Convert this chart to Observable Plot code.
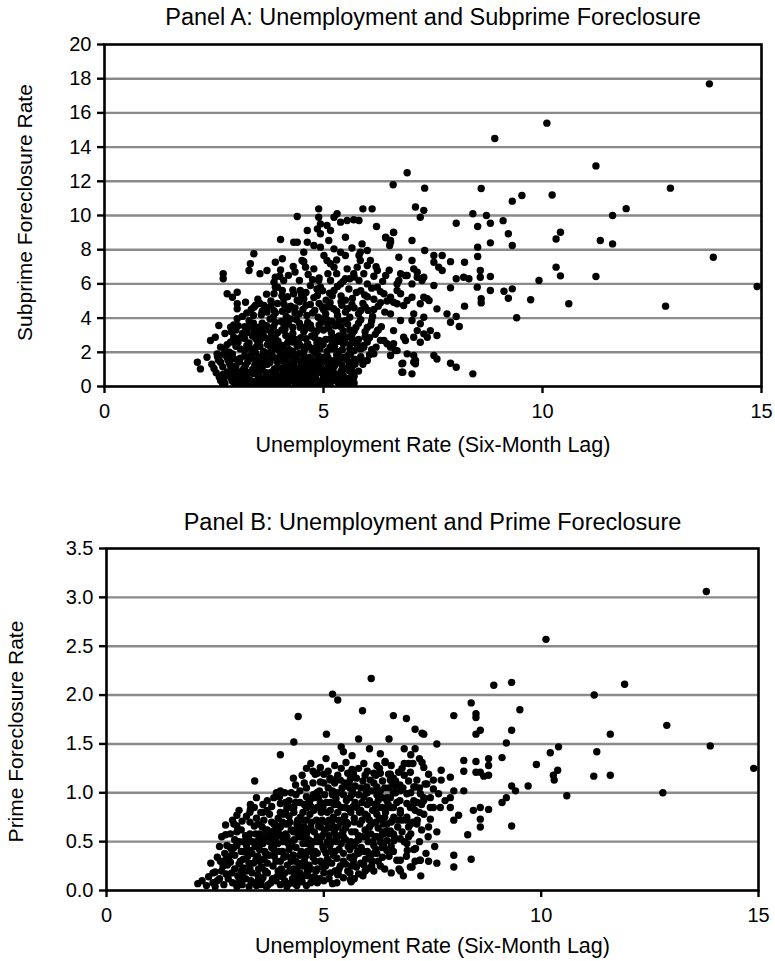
<!DOCTYPE html>
<html>
<head>
<meta charset="utf-8">
<script src="https://cdn.jsdelivr.net/npm/d3@7"></script>
<script src="https://cdn.jsdelivr.net/npm/@observablehq/plot@0.6"></script>
<style>
  body { margin: 0; background: #fff; }
  #chart svg { display: block; }
</style>
</head>
<body>
<div id="chart"></div>
<script>
// Axis ticks
const unemploymentTicks = [0, 5, 10, 15];
const subprimeTicks = [0, 2, 4, 6, 8, 10, 12, 14, 16, 18, 20];
const primeTicks = [0, 0.5, 1.0, 1.5, 2.0, 2.5, 3.0, 3.5];

// Panel A: [unemployment rate (six-month lag), subprime foreclosure rate]
const subprimeSparse = [
  [13.81,17.7],[10.1,15.4],[8.91,14.5],[11.22,12.9],[6.91,12.5],[6.59,11.8],[7.31,11.6],[8.6,11.58],[12.92,11.6],[10.22,11.2],
  [9.31,10.84],[9.53,11.17],[11.91,10.4],[11.6,10.0],[7.1,10.5],[7.29,10.3],[7.21,9.9],[8.41,10.1],[8.72,10.0],[8.81,9.55],
  [9.1,9.7],[8.03,9.55],[8.52,9.36],[6.6,9.0],[6.42,8.7],[6.53,8.54],[6.51,8.25],[7.02,8.54],[9.22,8.93],[9.31,8.25],
  [8.81,8.4],[10.41,9.02],[10.31,8.63],[11.32,8.54],[11.6,8.34],[8.52,8.15],[8.52,7.6],[7.31,7.95],[7.52,7.66],[7.71,7.66],
  [7.52,7.27],[7.63,6.98],[7.71,6.78],[6.72,7.56],[7.02,7.37],[7.9,7.3],[8.22,7.27],[13.9,7.56],[10.31,6.98],[10.41,6.47],
  [11.22,6.43],[9.92,6.2],[14.9,5.85],[7.06,6.88],[7.14,6.68],[7.29,6.39],[6.76,6.59],[6.87,6.49],[6.72,6.2],[6.42,6.49],
  [8.2,6.39],[8.32,6.3],[8.03,6.3],[7.9,5.77],[8.58,6.78],[8.58,6.39],[8.51,5.81],[8.81,6.43],[8.81,5.61],[9.12,5.57],
  [9.31,5.71],[9.22,5.16],[8.6,5.13],[8.6,4.89],[9.73,5.07],[10.6,4.84],[8.22,4.7],[12.81,4.7],[9.41,4.02],[7.52,5.91],
  [7.41,5.03],[7.29,5.22],[7.59,4.54],[7.82,4.25],[8.03,4.09],[7.9,3.76],[8.1,3.51],[7.59,2.98],[7.44,3.27],[7.29,3.08],
  [7.52,1.81],[7.59,1.61],[7.9,1.36],[8.03,1.13],[7.06,1.81],[7.1,1.33],[6.81,1.36],[6.81,0.84],[7.02,0.74],[8.41,0.74],
  [6.91,1.91],[6.64,2.1],[6.53,1.81],[6.6,2.5],[6.87,2.69],[7.06,2.88],[7.21,2.59],[7.37,2.88],[7.06,4.25],[7.02,3.86],
  [7.21,3.67],[7.29,4.05],[6.76,5.42],[6.91,5.03],[6.68,4.84],[7.02,5.22],[7.21,4.84],[7.37,5.13]
];
const subprimeMid = [
  [5.9,10.39],[6.11,10.39],[4.89,10.39],[4.4,9.94],[4.89,9.9],[4.93,9.51],[5.24,9.9],[5.31,10.1],[5.39,9.61],[5.54,9.71],
  [5.69,9.75],[5.81,9.71],[6.21,9.36],[4.63,9.12],[4.86,9.22],[4.93,8.93],[5.08,9.42],[5.16,9.12],[5.5,8.73],[4.02,8.6],
  [4.32,8.44],[4.4,8.44],[4.63,8.44],[4.78,8.25],[4.93,8.15],[5.12,8.54],[5.24,8.05],[5.39,7.85],[5.88,8.34],[6.0,7.95],
  [5.84,7.85],[6.42,8.73],[6.53,8.44],[6.6,9.02],[4.55,7.85],[4.51,7.37],[4.59,6.98],[4.78,6.88],[5.01,7.66],[5.08,7.37],
  [5.16,7.18],[5.24,6.98],[5.5,7.66],[5.54,6.88],[5.81,7.66],[5.84,7.37],[5.77,6.98],[6.0,7.08],[6.07,7.37],[3.41,7.76],
  [3.33,7.18],[3.3,6.78],[3.9,7.27],[4.06,7.47],[3.71,6.78],[4.31,7.02],[4.02,6.82],[3.9,6.39],[3.87,6.1],[4.09,6.2],
  [2.71,6.59],[2.71,6.3],[2.8,5.42],[2.92,5.22],[3.03,5.51],[3.03,4.84],[3.03,4.54],[3.22,4.93],[3.41,4.64],[3.64,4.74],
  [3.71,4.35],[3.87,4.44],[3.87,5.42],[3.9,5.81],[4.06,5.61],[4.09,5.13],[4.32,5.42],[4.47,5.61],[4.55,5.13],[4.89,6.2],
  [4.93,5.81],[4.86,5.32],[5.16,6.2],[5.24,5.61],[5.39,6.0],[5.5,6.3],[5.69,6.59],[5.81,6.2],[5.92,6.59],[6.0,6.0],
  [6.23,6.78],[6.68,6.0],[6.91,6.49],[7.02,6.0],[7.14,6.39],[7.25,6.2],[6.23,5.81],[6.38,5.42],[6.53,5.22],[6.68,5.61],
  [6.6,4.93],[6.83,4.74],[6.53,4.25],[6.76,3.86],[6.6,3.27],[6.83,2.88],[7.14,3.27],[6.45,2.5],[6.68,2.1],[7.1,1.52],
  [6.79,1.33],[6.79,0.84],[7.06,1.42],[6.23,3.27],[6.38,2.69],[6.53,2.3],[5.77,2.69],[5.92,2.3],[6.15,1.91],[6.0,1.52],
  [5.58,1.42],[5.58,0.94],[5.58,0.45],[5.39,0.54],[5.24,0.74],[5.08,0.94],[5.01,0.54],[4.78,0.74],[4.47,0.64],[4.25,0.74],
  [4.09,0.25],[3.87,0.25],[3.64,0.35],[3.33,0.35],[3.03,0.35],[2.65,0.35],[2.12,1.42],[2.19,1.03],[2.34,1.71],[2.42,2.69],
  [2.53,2.88],[2.65,2.3],[2.61,3.57],[2.88,3.47],[2.95,2.88],[3.03,3.96],[3.26,3.47],[3.41,3.18],[2.57,1.91],[2.65,1.42],
  [2.8,1.71]
];
const subprimeCore = [
  [2.62,0.55],[2.75,0.2],[2.8,0.85],[2.9,0.45],[2.98,0.15],[3.05,0.7],[3.12,0.3],[3.2,0.95],[3.26,0.5],[3.34,0.12],
  [3.4,0.75],[3.48,0.35],[3.55,0.9],[3.6,0.18],[3.68,0.6],[3.75,0.28],[3.82,0.85],[3.9,0.45],[3.97,0.1],[4.05,0.65],
  [4.12,0.3],[4.2,0.9],[4.28,0.5],[4.35,0.15],[4.42,0.78],[4.5,0.4],[4.6,0.95],[4.68,0.22],[4.75,0.6],[4.85,0.35],
  [4.95,0.8],[5.05,0.2],[5.12,0.55],[5.22,0.9],[5.3,0.3],[5.45,0.65],[5.55,0.15],[5.65,0.85],
  [2.45,1.3],[2.58,1.75],[2.7,1.15],[2.82,1.55],[2.92,1.9],[3.0,1.2],[3.1,1.65],[3.18,1.05],[3.27,1.45],[3.35,1.85],
  [3.43,1.25],[3.52,1.6],[3.6,1.1],[3.7,1.95],[3.78,1.4],[3.86,1.7],[3.95,1.15],[4.03,1.5],[4.1,1.88],[4.2,1.3],
  [4.3,1.65],[4.38,1.05],[4.47,1.45],[4.55,1.8],[4.65,1.2],[4.72,1.55],[4.82,1.92],[4.9,1.35],[5.0,1.7],[5.1,1.1],
  [5.2,1.5],[5.3,1.85],[5.42,1.25],[5.52,1.6],[5.62,1.95],[5.72,1.3],[5.85,1.75],
  [2.75,2.15],[2.88,2.6],[3.0,2.35],[3.1,2.85],[3.2,2.1],[3.3,2.55],[3.38,2.95],[3.46,2.3],[3.55,2.7],[3.63,2.05],
  [3.72,2.45],[3.8,2.9],[3.88,2.2],[3.96,2.65],[4.05,2.4],[4.14,2.98],[4.22,2.15],[4.3,2.6],[4.4,2.35],[4.48,2.85],
  [4.56,2.1],[4.64,2.5],[4.73,2.95],[4.82,2.25],[4.9,2.7],[4.99,2.45],[5.08,2.05],[5.16,2.8],[5.25,2.35],[5.34,2.65],
  [5.43,2.15],[5.52,2.9],[5.6,2.45],[5.7,2.1],[5.8,2.75],[5.92,2.4],[6.05,2.85],[6.2,2.3],
  [2.9,3.2],[3.05,3.55],[3.15,3.1],[3.3,3.85],[3.4,3.4],[3.5,3.05],[3.6,3.7],[3.68,3.3],[3.78,3.95],[3.86,3.5],
  [3.95,3.15],[4.04,3.8],[4.12,3.35],[4.2,3.65],[4.3,3.1],[4.38,3.9],[4.47,3.45],[4.55,3.2],[4.64,3.75],[4.72,3.4],
  [4.8,3.05],[4.9,3.6],[5.0,3.3],[5.08,3.9],[5.18,3.15],[5.27,3.55],[5.36,3.85],[5.45,3.25],[5.55,3.65],[5.65,3.05],
  [5.74,3.45],[5.85,3.9],[5.95,3.2],[6.08,3.6],[6.18,3.05],[6.32,3.5],
  [3.25,4.3],[3.45,4.75],[3.58,4.2],[3.7,4.6],[3.85,4.05],[3.95,4.85],[4.06,4.4],[4.15,4.1],[4.25,4.7],[4.35,4.3],
  [4.45,4.95],[4.53,4.5],[4.62,4.15],[4.7,4.8],[4.8,4.45],[4.88,4.05],[4.97,4.65],[5.05,4.25],[5.15,4.9],[5.23,4.55],
  [5.32,4.15],[5.42,4.75],[5.5,4.35],[5.6,4.05],[5.7,4.6],[5.8,4.25],[5.9,4.85],[6.02,4.45],[6.12,4.1],[6.25,4.7],
  [6.4,4.35],
  [3.7,5.4],[3.95,5.8],[4.18,5.25],[4.3,5.65],[4.4,5.05],[4.6,5.5],[4.7,5.9],[4.78,5.2],[4.98,5.6],[5.06,5.05],
  [5.14,5.45],[5.32,5.85],[5.4,5.3],[5.58,5.7],[5.66,5.15],[5.75,5.5],[5.94,5.35],[6.1,5.75],[6.15,5.1],[6.3,5.55],
  [4.2,6.5],[4.45,6.2],[4.65,6.55],[4.9,6.35],[5.3,6.6],[5.45,6.15],[5.7,6.4],[6.15,6.45],[6.35,6.15],[3.55,6.6],
  [2.85,0.6],[3.0,1.0],[3.15,0.55],[3.3,0.82],[3.45,1.55],[3.58,0.45],[3.72,1.3],[3.85,0.2],[4.0,1.75],[4.15,0.65],
  [4.25,1.1],[4.45,0.2],[4.58,1.35],[4.7,0.85],[4.9,1.6],[5.0,0.5],[5.15,1.35],[5.35,0.7],[5.5,1.05],[3.35,0.3],
  [3.65,1.68],[3.92,0.75],[4.08,0.25],[4.33,1.78],[4.62,0.48],[4.78,1.12],[5.25,0.38],[5.6,0.52],[3.08,1.45],[2.95,0.95],
  [3.35,2.2],[3.6,3.1],[3.85,2.55],[4.1,3.55],[4.35,2.75],[4.6,3.5],[4.85,2.55],[5.1,3.6],[5.35,2.95],[5.6,3.3],
  [5.85,2.2],[4.0,2.05],[4.45,2.45],[4.95,3.95],[5.45,2.5],[3.5,3.45],[4.25,3.95],[5.2,2.2],
  [2.7,0.1],[3.1,0.08],[3.25,0.18],[3.5,0.1],[3.7,0.12],[3.9,0.15],[4.18,0.1],[4.55,0.08],[4.78,0.15],[4.92,0.1],
  [5.15,0.12],[5.4,0.15],[5.7,0.2],
  [2.55,0.8],[2.72,0.5],[3.0,0.55],[3.22,0.68],[3.52,0.6],[3.78,0.62],[3.95,0.5],[4.1,0.85],[4.32,0.5],[4.55,0.6],
  [4.82,0.55],[5.08,0.7],[5.32,0.5],[5.5,0.35],[5.7,0.6],
  [2.5,1.05],[2.88,1.2],[3.22,1.25],[3.5,1.08],[3.66,1.3],[3.88,1.02],[4.12,1.22],[4.32,1.3],[4.5,1.15],[4.75,1.4],
  [4.95,1.1],[5.25,1.2],[5.35,1.45],[5.65,1.15],[5.9,1.3],
  [2.7,1.85],[2.95,1.62],[3.2,1.78],[3.45,1.95],[3.58,1.75],[3.82,1.9],[4.08,1.62],[4.2,1.8],[4.45,1.95],[4.68,1.7],
  [4.88,1.8],[5.1,1.72],[5.38,1.65],[5.55,1.8],[5.78,1.55],[6.05,1.85],
  [2.8,2.45],[3.05,2.6],[3.25,2.4],[3.5,2.55],[3.75,2.65],[3.92,2.4],[4.18,2.55],[4.42,2.62],[4.68,2.3],[4.95,2.6],
  [5.2,2.55],[5.48,2.7],[5.75,2.5],[6.0,2.6],[6.3,2.7],
  [2.75,3.1],[3.0,3.3],[3.25,3.15],[3.55,3.35],[3.8,3.2],[4.05,3.3],[4.3,3.45],[4.58,3.35],[4.85,3.25],[5.12,3.4],
  [5.4,3.5],[5.7,3.25],[6.0,3.45],[6.25,3.3],
  [3.15,4.1],[3.4,4.15],[3.6,4.4],[3.9,4.3],[4.2,4.5],[4.45,4.25],[4.75,4.3],[5.0,4.5],[5.3,4.4],[5.55,4.55],
  [5.85,4.45],[6.15,4.5],
  [3.5,5.1],[3.8,5.0],[4.05,5.3],[4.5,5.35],[4.85,5.7],[5.2,5.3],[5.5,5.05],[5.85,5.6],[6.0,5.25],[6.45,5.0],
  [4.0,6.45],[4.35,6.7],[4.75,6.25],[5.1,6.6],[5.6,6.3],[6.2,7.0],[6.5,6.8],[4.55,7.3],[5.3,7.4],[5.65,8.1],
  [2.68,0.38],[2.92,0.3],[3.18,0.4],[3.42,0.22],[3.62,0.42],[3.8,0.38],[4.02,0.42],[4.22,0.32],[4.4,0.45],[4.62,0.3],
  [4.72,0.42],[4.9,0.25],[5.1,0.38],[5.35,0.2],[5.48,0.48],[5.68,0.35],
  [2.7,0.7],[2.9,0.78],[3.1,0.85],[3.38,1.0],[3.5,0.82],[3.7,0.8],[3.92,0.95],[4.05,1.05],[4.28,0.85],[4.5,0.9],
  [4.62,0.72],[4.85,0.95],[5.02,0.75],[5.2,1.05],[5.4,0.9],[5.62,1.0],[5.8,0.9],
  [2.6,1.55],[2.85,1.38],[3.05,1.55],[3.3,1.6],[3.55,1.4],[3.75,1.55],[3.95,1.45],[4.15,1.48],[4.4,1.6],[4.6,1.55],
  [4.8,1.5],[5.05,1.45],[5.28,1.55],[5.45,1.7],[5.7,1.6],[5.9,1.5],
  [2.85,2.0],[3.1,2.2],[3.4,2.05],[3.55,2.35],[3.8,2.25],[4.1,2.2],[4.3,2.05],[4.55,2.3],[4.75,2.1],[4.92,2.2],
  [5.15,2.3],[5.35,2.05],[5.6,2.2],[5.8,2.35],[6.1,2.15],
  [2.95,2.7],[3.2,2.8],[3.45,2.8],[3.65,2.88],[3.9,2.82],[4.2,2.85],[4.4,2.7],[4.6,2.8],[4.8,2.85],[5.05,2.75],
  [5.25,2.85],[5.45,2.95],[5.65,2.8],[5.95,2.9],
  [2.95,3.6],[3.2,3.5],[3.4,3.7],[3.7,3.55],[3.9,3.75],[4.15,3.8],[4.45,3.7],[4.7,3.6],[4.95,3.75],[5.2,3.8],
  [5.5,3.85],[5.8,3.7],[6.1,3.85],
  [3.35,4.5],[3.55,4.85],[3.8,4.7],[4.1,4.8],[4.35,4.6],[4.6,4.75],[4.9,4.85],[5.1,4.65],[5.4,4.95],[5.65,4.8],
  [5.95,4.65],[6.3,4.9]
];

// Panel B: [unemployment rate (six-month lag), prime foreclosure rate]
const primeSparse = [
  [13.8,3.06],[10.11,2.57],[8.91,2.10],[9.32,2.13],[11.92,2.11],[11.22,2.0],[8.39,1.92],[8.5,1.81],[8.5,1.77],[7.99,1.79],
  [6.6,1.79],[6.9,1.76],[9.51,1.85],[12.89,1.69],[7.1,1.65],[7.26,1.61],[7.3,1.6],[8.6,1.64],[8.5,1.6],[9.32,1.64],
  [9.2,1.51],[11.59,1.6],[7.6,1.5],[7.1,1.45],[7.0,1.39],[10.4,1.47],[10.21,1.41],[11.28,1.42],[13.89,1.48],[6.41,1.32],
  [7.26,1.31],[7.3,1.26],[7.41,1.19],[8.22,1.33],[8.22,1.22],[8.5,1.32],[8.5,1.21],[8.79,1.35],[8.79,1.28],[8.68,1.17],
  [8.79,1.18],[8.6,1.21],[9.1,1.36],[9.89,1.29],[10.38,1.23],[10.28,1.18],[10.3,1.13],[11.21,1.17],[11.59,1.18],[14.89,1.25],
  [6.72,1.21],[6.49,1.19],[6.53,1.13],[6.64,1.07],[6.76,1.02],[7.7,1.23],[7.91,1.16],[7.7,1.13],[7.52,1.13],[7.14,1.13],
  [7.1,1.06],[7.22,0.99],[7.3,0.92],[7.07,0.92],[6.91,0.99],[7.37,1.09],[7.52,1.04],[7.45,0.95],[7.64,0.99],[7.68,0.85],
  [7.52,0.85],[7.45,0.73],[7.41,0.65],[7.79,0.92],[7.91,0.95],[7.99,1.02],[8.22,1.02],[7.91,0.85],[8.1,0.77],[7.99,0.72],
  [8.44,0.82],[8.6,0.85],[8.79,0.83],[8.6,0.73],[8.6,0.65],[9.32,1.07],[9.41,1.02],[9.7,1.07],[9.2,0.95],[9.1,0.9],
  [10.59,0.97],[12.8,1.0],[9.32,0.66],[8.31,0.57],[7.99,0.36],[7.99,0.24],[8.39,0.32],[7.21,0.31],[7.41,0.30],[7.6,0.28],
  [6.76,0.31],[6.99,0.24],[7.07,0.42],[6.91,0.48],[6.76,0.53],[6.6,0.58],[6.45,0.61],[6.91,0.72],[6.76,0.79],[6.99,0.85],
  [6.6,0.85],[6.45,0.92],[6.34,0.85],[6.34,0.72],[6.37,0.58],[6.34,0.44],[7.23,0.15],[6.83,0.15]
];
const primeMid = [
  [6.09,2.17],[5.2,2.01],[5.32,1.95],[5.89,1.84],[4.41,1.78],[5.06,1.6],[4.31,1.52],[5.4,1.47],[4.0,1.39],[5.51,1.31],
  [5.92,1.3],[6.22,1.28],[6.41,1.31],[4.92,1.26],[5.0,1.19],[4.8,1.19],[4.92,1.11],[5.15,1.13],[5.32,1.18],[5.38,1.13],
  [5.61,1.14],[5.53,1.07],[5.72,1.07],[5.8,1.25],[6.07,1.13],[5.99,1.06],[6.22,1.06],[6.53,1.19],[6.57,1.11],[6.99,1.21],
  [7.07,1.06],[7.33,1.09],[3.41,1.12],[3.91,1.0],[3.31,0.88],[3.31,0.83],[3.69,0.82],[4.0,0.89],[4.12,0.9],[4.12,0.8],
  [4.31,0.85],[3.0,0.77],[2.93,0.68],[3.12,0.71],[2.74,0.67],[2.74,0.57],[3.0,0.6],[3.43,0.58],[3.62,0.55],[3.85,0.61],
  [3.89,0.67],[4.12,0.68],[3.92,0.55],[4.46,0.75],[4.61,0.85],[4.65,0.9],[4.77,0.95],[4.84,1.0],[4.77,0.82],[4.46,0.65],
  [4.61,0.72],[2.77,0.46],[2.93,0.44],[3.0,0.48],[3.31,0.41],[3.46,0.46],[3.62,0.51],[3.77,0.56],[6.61,0.51],[6.92,0.41],
  [7.11,0.43],[7.22,0.31],[6.68,0.31],[6.76,0.2],[7.03,0.24],[5.32,0.16],[5.61,0.11],[6.22,0.38],[6.07,0.32],[5.92,0.26],
  [6.45,0.41],[6.45,0.51],[6.37,0.58],[6.22,0.55],[6.53,0.61],[6.22,0.78],[6.45,0.85],[6.61,0.75],[6.37,0.68],[6.76,0.82],
  [6.91,0.75],[7.14,0.68],[7.3,0.78],[7.45,0.85],[6.53,0.95],[6.68,0.9],[6.91,0.89],[7.07,0.89],[7.3,0.95],[6.73,0.22],
  [5.63,0.09],[5.33,0.17],[4.74,0.1],[4.54,0.15],[4.34,0.07],[2.1,0.07],[2.35,0.14],[2.5,0.19],[2.75,0.17],[2.85,0.29],
  [2.85,0.44],[3.0,0.46]
];
const primeCore = [
  [2.2,0.1],[2.45,0.08],[2.6,0.12],[2.68,0.25],[2.82,0.35],[2.9,0.08],[2.95,0.22],[2.88,0.42],
  [3.02,0.15],[3.08,0.3],[3.12,0.06],[3.18,0.4],[3.22,0.2],[3.28,0.52],[3.32,0.1],[3.38,0.28],[3.42,0.45],[3.48,0.16],
  [3.05,0.5],[3.25,0.35],[3.45,0.05],[3.15,0.23],
  [3.52,0.3],[3.56,0.1],[3.6,0.48],[3.65,0.2],[3.7,0.62],[3.74,0.36],[3.78,0.08],[3.83,0.25],[3.88,0.5],[3.92,0.14],
  [3.97,0.4],[3.58,0.65],[3.68,0.04],[3.8,0.7],[3.95,0.6],
  [4.02,0.22],[4.06,0.5],[4.1,0.1],[4.14,0.35],[4.18,0.68],[4.22,0.2],[4.27,0.46],[4.31,0.8],[4.35,0.3],[4.4,0.58],
  [4.44,0.12],[4.48,0.4],[4.08,0.78],[4.25,0.62],[4.38,0.05],[4.46,0.72],
  [4.52,0.25],[4.56,0.55],[4.6,0.85],[4.64,0.15],[4.68,0.4],[4.72,0.7],[4.76,0.98],[4.8,0.3],[4.85,0.55],[4.9,0.12],
  [4.94,0.8],[4.98,0.45],[4.55,0.65],[4.7,0.22],[4.88,0.95],[4.62,0.48],[4.83,0.72],[4.96,0.28],
  [5.02,0.62],[5.06,0.9],[5.1,0.3],[5.14,1.15],[5.18,0.5],[5.22,0.75],[5.26,0.2],[5.3,1.0],[5.35,0.42],[5.4,0.85],
  [5.44,0.6],[5.48,1.1],[5.05,0.38],[5.2,0.98],[5.33,0.65],[5.45,0.3],[5.12,0.72],[5.28,0.55],
  [5.52,0.7],[5.56,0.45],[5.6,0.95],[5.64,0.25],[5.68,1.2],[5.72,0.6],[5.76,0.85],[5.8,0.38],[5.85,1.05],[5.9,0.55],
  [5.95,0.78],[5.58,1.1],[5.7,0.35],[5.83,0.68],[5.98,1.0],
  [6.02,0.5],[6.06,0.9],[6.1,0.68],[6.15,1.2],[6.2,0.42],[6.25,0.85],[6.3,1.02],[6.35,0.6],[6.4,0.75],[6.45,0.95],
  [6.12,0.3],[6.28,1.25],
  [6.55,0.7],[6.65,1.0],[6.8,0.6],[6.95,1.3],[7.05,0.7],[7.2,1.35],[6.85,1.45],[7.4,0.55],
  [4.1,1.0],[4.3,1.15],[4.55,1.1],[4.7,1.3],[4.85,1.2],[5.05,1.35],[5.25,1.28],[5.45,1.42],[5.65,1.38],[5.8,1.55],
  [6.05,1.45],[6.3,1.4],[6.5,1.55],[3.6,0.88],[3.85,0.95],[3.3,0.8],
  [3.1,0.2],[3.35,0.38],[3.5,0.12],[3.62,0.32],[3.75,0.5],[3.9,0.3],[4.0,0.06],[4.12,0.58],[4.2,0.42],[4.33,0.16],
  [4.42,0.28],[4.5,0.55],[4.58,0.35],[4.66,0.62],[4.74,0.5],[4.82,0.2],[4.92,0.65],[5.0,0.18],[5.08,0.5],[5.16,0.4],
  [5.24,0.88],[5.38,0.25],[5.42,0.7],[5.5,0.52],[5.62,0.8],[5.74,0.5],[5.88,0.9],[5.92,0.4],[6.05,0.72],[6.18,0.55],
  [6.22,0.98],[6.38,0.45],
  [2.3,0.05],[2.55,0.1],[2.7,0.06],[3.0,0.04],[3.2,0.12],[3.38,0.08],[3.6,0.13],[3.72,0.06],[3.9,0.1],[4.05,0.14],
  [4.2,0.07],[4.28,0.12],[4.5,0.09],[4.6,0.05],[4.78,0.14],[4.85,0.08],[5.12,0.12],[5.2,0.07],[5.45,0.13],[5.55,0.2],
  [5.8,0.17],[6.0,0.22],[6.3,0.25],[6.55,0.18],
  [2.4,0.28],[2.62,0.3],[2.78,0.26],[3.05,0.27],[3.3,0.22],[3.44,0.32],[3.57,0.24],[3.7,0.28],[3.86,0.35],[4.0,0.3],
  [4.16,0.26],[4.3,0.36],[4.38,0.22],[4.55,0.3],[4.66,0.26],[4.75,0.34],[4.92,0.3],[5.04,0.25],[5.18,0.28],[5.3,0.33],
  [5.5,0.27],[5.68,0.3],[5.85,0.28],[6.05,0.35],[6.25,0.3],[6.5,0.35],[6.9,0.35],[7.1,0.3],[7.35,0.38],
  [2.6,0.45],[2.72,0.38],[3.1,0.4],[3.22,0.46],[3.36,0.5],[3.52,0.42],[3.66,0.38],[3.8,0.44],[3.94,0.48],[4.05,0.4],
  [4.2,0.5],[4.36,0.44],[4.52,0.48],[4.7,0.45],[4.8,0.4],[4.9,0.5],[5.0,0.42],[5.14,0.46],[5.25,0.4],[5.4,0.48],
  [5.6,0.42],[5.7,0.46],[5.86,0.44],[6.0,0.4],[6.15,0.46],[6.3,0.5],[6.55,0.45],[6.85,0.5],[7.2,0.5],[7.55,0.45],
  [2.85,0.58],[3.1,0.62],[3.2,0.56],[3.4,0.66],[3.52,0.58],[3.66,0.62],[3.78,0.58],[4.0,0.65],[4.15,0.55],[4.3,0.6],
  [4.38,0.68],[4.5,0.62],[4.6,0.58],[4.78,0.6],[4.88,0.66],[5.0,0.58],[5.1,0.64],[5.24,0.6],[5.36,0.56],[5.5,0.64],
  [5.64,0.6],[5.8,0.56],[5.95,0.62],[6.08,0.58],[6.25,0.64],[6.5,0.58],[6.7,0.65],[7.0,0.58],[7.25,0.62],[7.6,0.6],
  [3.05,0.82],[3.22,0.76],[3.45,0.74],[3.55,0.8],[3.75,0.78],[3.95,0.74],[4.2,0.76],[4.25,0.85],[4.4,0.72],[4.52,0.8],
  [4.68,0.78],[4.85,0.85],[4.96,0.72],[5.08,0.8],[5.2,0.72],[5.32,0.8],[5.48,0.76],[5.56,0.84],[5.7,0.74],[5.82,0.8],
  [6.0,0.76],[6.12,0.82],[6.28,0.74],[6.42,0.8],[6.58,0.72],[6.8,0.72],[7.0,0.68],[7.2,0.8],
  [3.45,0.95],[3.7,0.92],[3.98,0.96],[4.2,0.92],[4.36,0.98],[4.45,0.9],[4.68,0.92],[4.92,0.9],[5.02,0.98],[5.15,0.9],
  [5.28,0.94],[5.38,1.0],[5.52,0.92],[5.64,0.98],[5.72,0.9],[5.92,0.96],[6.05,0.92],[6.18,0.88],[6.35,0.95],[6.48,0.88],
  [6.6,1.0],[6.82,1.05],[7.15,0.9],
  [4.35,1.08],[4.6,1.05],[4.75,1.1],[5.1,1.05],[5.25,1.1],[5.42,1.05],[5.66,1.02],[5.9,1.12],[6.1,1.02],[6.15,1.1],
  [6.35,1.12],[6.4,1.05],[6.65,1.12],[6.85,1.18],[7.0,1.0],
  [4.6,1.25],[5.1,1.22],[5.4,1.25],[5.65,1.24],[6.0,1.22],[6.2,1.18],[6.55,1.28],[6.85,1.3],[7.05,1.3],
  [2.5,0.04],[2.8,0.12],[3.05,0.1],[3.28,0.04],[3.55,0.06],[3.82,0.12],[4.15,0.04],[4.42,0.1],[4.7,0.08],[5.0,0.1],
  [5.3,0.08],[5.7,0.12],[5.9,0.15],[6.15,0.2],
  [2.45,0.18],[2.65,0.2],[2.88,0.18],[3.12,0.16],[3.35,0.18],[3.5,0.22],[3.7,0.18],[3.95,0.2],[4.1,0.18],[4.3,0.22],
  [4.45,0.18],[4.62,0.2],[4.85,0.22],[5.0,0.24],[5.15,0.18],[5.35,0.22],[5.6,0.18],[5.75,0.24],[5.95,0.2],[6.1,0.25],
  [6.4,0.22],
  [2.55,0.34],[2.75,0.32],[2.95,0.36],[3.15,0.32],[3.28,0.28],[3.48,0.35],[3.64,0.4],[3.85,0.42],[4.08,0.34],[4.25,0.3],
  [4.45,0.36],[4.62,0.4],[4.85,0.38],[5.08,0.32],[5.22,0.36],[5.45,0.38],[5.6,0.34],[5.78,0.4],[5.96,0.32],[6.15,0.38],
  [6.35,0.34],[6.6,0.4],
  [2.65,0.55],[2.95,0.52],[3.15,0.5],[3.3,0.58],[3.5,0.52],[3.7,0.55],[3.85,0.52],[4.02,0.56],[4.18,0.48],[4.32,0.52],
  [4.45,0.55],[4.65,0.52],[4.82,0.5],[4.95,0.55],[5.12,0.56],[5.3,0.5],[5.45,0.55],[5.62,0.5],[5.8,0.52],[5.98,0.55],
  [6.12,0.5],[6.3,0.55],[6.62,0.55],[6.95,0.55],
  [2.9,0.72],[3.0,0.66],[3.3,0.7],[3.5,0.68],[3.62,0.72],[3.85,0.68],[4.05,0.7],[4.22,0.7],[4.35,0.62],[4.55,0.72],
  [4.7,0.65],[4.9,0.7],[5.05,0.7],[5.2,0.66],[5.35,0.72],[5.55,0.68],[5.7,0.7],[5.88,0.72],[6.05,0.65],[6.2,0.7],
  [6.45,0.68],[6.7,0.72],[6.95,0.65],[7.15,0.72],
  [3.4,0.85],[3.6,0.8],[3.8,0.86],[4.0,0.8],[4.15,0.85],[4.35,0.9],[4.55,0.88],[4.7,0.86],[4.98,0.85],[5.15,0.82],
  [5.32,0.88],[5.5,0.85],[5.68,0.86],[5.85,0.82],[6.0,0.88],[6.25,0.92],[6.55,0.85],[6.75,0.92],[7.1,0.82],[7.25,0.88],
  [4.0,1.02],[4.25,1.0],[4.45,1.02],[4.6,0.96],[4.9,1.02],[5.2,1.02],[5.45,0.98],[5.6,1.05],[5.8,0.98],[6.0,1.0],
  [6.25,1.0],[6.5,1.05],[6.75,1.08],[6.95,1.12],[7.2,1.05],
  [4.5,1.18],[4.75,1.22],[5.0,1.1],[5.3,1.15],[5.55,1.2],[5.75,1.15],[5.95,1.18],[6.3,1.2],[6.6,1.15],[6.8,1.25]
];

const subprimePoints = [...subprimeSparse, ...subprimeMid, ...subprimeCore];
const primePoints = [...primeSparse, ...primeMid, ...primeCore];

const FONT = '"Liberation Sans", Arial, Helvetica, sans-serif';
const X_LABEL = "Unemployment Rate (Six-Month Lag)";

function panel({points, yDomain, yTicks, yFormat, title, yLabel, height, marginTop, marginBottom, marginLeft, marginRight, titleDy, xLabelDy, yLabelDx, yLabelDy}) {
  return Plot.plot({
    width: 775,
    height,
    marginTop, marginBottom, marginLeft, marginRight,
    style: {fontFamily: FONT, fontSize: "20px", color: "black", background: "white", overflow: "visible"},
    x: {domain: [0, 15]},
    y: {domain: yDomain},
    marks: [
      Plot.ruleY(yTicks.slice(1, -1), {stroke: "#8a8a8a", strokeWidth: 2.4}),
      Plot.dot(points, {x: d => d[0], y: d => d[1], r: 3.7, fill: "black", stroke: "none", clip: true}),
      Plot.frame({stroke: "black", strokeWidth: 2.6}),
      Plot.axisX({ticks: unemploymentTicks, tickSize: 7, tickPadding: 10, strokeWidth: 2.4, label: null, fontSize: 20}),
      Plot.axisY({ticks: yTicks, tickSize: 7, tickPadding: 6, strokeWidth: 2.4, tickFormat: yFormat, label: null, fontSize: 20}),
      Plot.text([title], {frameAnchor: "top", textAnchor: "middle", lineAnchor: "middle", dy: titleDy, fontSize: 23.5}),
      Plot.text([X_LABEL], {frameAnchor: "bottom", textAnchor: "middle", lineAnchor: "middle", dy: xLabelDy, fontSize: 21.5}),
      Plot.text([yLabel], {frameAnchor: "left", textAnchor: "middle", lineAnchor: "middle", dx: yLabelDx, dy: yLabelDy, rotate: -90, fontSize: 21})
    ]
  });
}

const chart = document.getElementById("chart");
chart.append(panel({
  points: subprimePoints,
  yDomain: [0, 20],
  yTicks: subprimeTicks,
  yFormat: d3.format("d"),
  title: "Panel A: Unemployment and Subprime Foreclosure",
  yLabel: "Subprime Foreclosure Rate",
  height: 466, marginTop: 44, marginBottom: 80, marginLeft: 104, marginRight: 14,
  titleDy: -27, xLabelDy: 59, yLabelDx: -79, yLabelDy: -3
}));
chart.append(panel({
  points: primePoints,
  yDomain: [0, 3.5],
  yTicks: primeTicks,
  yFormat: d3.format(".1f"),
  title: "Panel B: Unemployment and Prime Foreclosure",
  yLabel: "Prime Foreclosure Rate",
  height: 495, marginTop: 82, marginBottom: 71, marginLeft: 106, marginRight: 17,
  titleDy: -26, xLabelDy: 56, yLabelDx: -90, yLabelDy: 12
}));
</script>
</body>
</html>
